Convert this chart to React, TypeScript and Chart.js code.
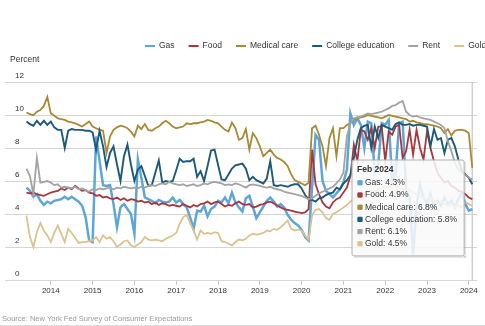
import React, { useEffect, useRef } from 'react';
import { Chart, registerables, Tooltip } from 'chart.js';

Chart.register(...registerables);

// ---------- data ----------
const startYear = 2013;
const startMonth = 6; // June 2013, monthly through Feb 2024
const monthNames = ['Jan', 'Feb', 'Mar', 'Apr', 'May', 'Jun', 'Jul', 'Aug', 'Sep', 'Oct', 'Nov', 'Dec'];
const yearTicks = [2014, 2015, 2016, 2017, 2018, 2019, 2020, 2021, 2022, 2023, 2024];
const seriesNames = ['Gas', 'Food', 'Medical care', 'College education', 'Rent', 'Gold'];
const axisTitle = 'Percent';
const sourceText = 'Source: New York Fed Survey of Consumer Expectations';

const gas = [
  5.6, 5.4, 5.05, 5.2, 4.8, 4.55, 4.75,
  4.65, 4.8, 4.85, 4.9, 5.05, 4.9, 5.05, 4.9, 4.75, 4.5, 3.8, 2.4,
  2.3, 8.7, 7.2, 5.75, 5.7, 5.75, 4.6, 3.2, 4.4, 4.6, 4.3, 4.0,
  2.8, 7.3, 6.2, 5.0, 4.9, 4.8, 4.65, 4.85, 4.75, 4.7, 4.75, 5.0,
  4.7, 4.85, 4.6, 4.4, 3.8, 3.1, 4.2, 4.15, 4.5, 3.85, 4.3, 4.45,
  4.8, 4.7, 5.0, 4.65, 5.3, 4.7, 4.4, 4.15, 4.95, 5.1, 4.45, 3.75,
  4.1, 4.45, 4.8, 5.0, 4.75, 4.45, 4.6, 4.4, 3.95, 3.65, 3.45, 3.3,
  3.05, 2.6, 2.4, 5.6, 8.8, 8.5, 6.0, 5.4, 5.2, 5.0, 5.25, 5.5,
  5.9, 6.7, 10.1, 9.4, 9.8, 9.4, 8.0, 9.6, 9.5, 6.5, 7.0, 9.5,
  9.4, 9.7, 6.0, 6.5, 9.5, 9.6, 5.5, 5.0, 1.5, 4.5, 5.8, 5.0,
  4.6, 5.2, 4.4, 4.8, 4.5, 5.0, 4.6, 4.8, 4.4, 4.9, 5.3, 4.6,
  4.2, 4.3,
];
const food = [
  5.3, 5.25, 5.3, 5.2, 5.15, 5.1, 5.2,
  5.3, 5.35, 5.4, 5.55, 5.45, 5.6, 5.5, 5.7, 5.55, 5.4, 5.45, 5.3,
  5.25, 5.1, 5.15, 5.0, 5.05, 4.95, 4.9, 5.0, 4.85, 4.95, 4.8, 4.9,
  4.85, 4.75, 4.8, 4.7, 4.75, 4.6, 4.7, 4.55, 4.65, 4.6, 4.5, 4.55,
  4.5, 4.45, 4.6, 4.5, 4.4, 4.55, 4.45, 4.6, 4.65, 4.75, 4.6, 4.7,
  4.75, 4.6, 4.45, 4.55, 4.5, 4.65, 4.75, 4.6, 4.55, 4.6, 4.4, 4.45,
  4.55, 4.6, 4.7, 4.75, 4.65, 4.5, 4.4, 4.3, 4.25, 4.2, 4.15, 4.1,
  4.05, 4.1, 4.3, 7.9, 5.8, 5.2, 4.7, 4.45, 4.35, 4.7, 4.9, 5.0,
  5.3, 5.6, 6.3, 8.2, 7.2, 9.1, 9.0, 8.5, 9.2, 8.0, 9.3, 9.3,
  7.2, 9.0, 8.8, 9.3, 9.4, 7.4, 7.8, 9.1, 7.6, 9.1, 8.0, 7.3,
  9.0, 8.0, 7.2, 6.5, 6.2, 5.9, 6.0, 5.7, 5.6, 5.4, 5.35, 5.2,
  5.0, 4.9,
];
const medicalCare = [
  10.15, 10.05, 9.98, 10.2, 10.3, 10.55, 11.1,
  10.1, 9.95, 9.8, 9.75, 9.7, 9.6, 9.55, 9.5, 9.4, 9.3, 9.45, 9.6,
  9.3, 9.2, 9.1, 9.05, 7.7, 8.7, 9.1, 9.25, 9.35, 9.3, 9.2, 9.0,
  8.7, 9.35, 9.15, 9.45, 9.1, 9.05, 9.2, 9.3, 9.5, 9.65, 9.5, 9.3,
  9.2, 9.25, 9.3, 9.5, 9.45, 9.5, 9.5, 9.55, 9.6, 9.7, 9.65, 9.55,
  9.5, 9.3, 9.1, 9.0, 9.55, 9.2, 8.5, 8.6, 9.15, 7.9, 8.9, 8.6,
  8.1, 7.5, 7.7, 7.9, 7.6, 7.4, 7.3, 7.15, 6.9, 6.4, 6.05, 5.95,
  5.85, 5.75, 5.9, 9.2, 9.35, 8.8, 8.1, 6.9, 8.6, 9.2, 7.5, 9.2,
  9.2, 9.4, 9.5, 9.7, 9.8, 9.85, 9.9, 10.0, 9.95, 9.9, 9.85, 9.8,
  9.9, 10.0, 9.95, 9.9, 9.85, 9.8, 9.75, 9.6, 9.65, 9.55, 9.5, 9.45,
  9.45, 9.4, 9.35, 9.3, 9.2, 8.9, 9.15, 8.75, 9.05, 9.1, 9.1, 9.05,
  8.9, 6.8,
];
const collegeEducation = [
  9.6, 9.45, 9.35, 9.65, 9.4, 9.65, 9.4,
  9.6, 9.25, 9.1, 9.1, 8.0, 9.05, 9.15, 9.1, 9.1, 9.1, 9.05, 9.05,
  8.95, 7.9, 9.05, 8.1, 6.85, 7.7, 8.1, 7.0, 6.0, 7.5, 8.2, 7.0,
  6.0, 6.7, 6.9, 6.3, 5.7, 5.75, 6.5, 7.25, 5.9, 6.0, 5.95, 6.0,
  6.65, 7.35, 7.15, 7.2, 7.2, 7.35, 6.25, 6.6, 6.0, 6.9, 7.85, 7.9,
  7.0, 6.1, 6.05, 6.4, 6.75, 6.95, 7.0, 7.05, 6.75, 6.05, 6.25, 6.05,
  5.95, 5.85, 6.15, 7.2, 5.75, 5.7, 5.75, 5.7, 5.65, 5.75, 5.8, 5.8,
  5.55, 5.15, 4.9, 4.85, 4.75, 4.95, 5.0, 5.15, 5.25, 5.3, 5.6, 5.5,
  5.85, 6.05, 6.35, 7.4, 8.5, 9.2, 9.35, 9.4, 8.0, 9.3, 8.6, 9.4,
  9.3, 9.2, 9.1, 9.45, 9.55, 9.4, 9.4, 9.45, 9.35, 9.4, 9.4, 9.35,
  9.3, 8.1, 9.15, 8.5, 8.6, 7.7, 8.5, 8.6, 8.1, 7.3, 6.6, 6.4,
  6.2, 5.8,
];
const rent = [
  6.75, 6.3, 5.2, 7.4, 5.9, 5.95, 6.0,
  5.9, 5.75, 5.8, 5.6, 5.65, 5.6, 5.55, 5.65, 5.5, 5.55, 5.45, 5.35,
  5.5, 5.45, 5.55, 5.5, 5.55, 5.6, 5.5, 5.6, 5.55, 5.65, 5.6, 5.55,
  5.6, 5.55, 5.65, 5.6, 5.7, 5.75, 5.7, 5.8, 5.85, 5.8, 5.95, 5.85,
  5.8, 5.75, 5.8, 5.7, 5.75, 5.8, 5.7, 5.75, 5.85, 5.8, 5.9, 5.95,
  5.9, 5.85, 5.75, 5.8, 5.75, 5.85, 5.8, 5.7, 5.6, 5.75, 5.8, 5.75,
  5.7, 5.65, 5.6, 5.65, 5.55, 5.5, 5.45, 5.35, 5.3, 5.25, 5.2, 5.15,
  5.1, 5.0, 4.9, 4.95, 5.1, 5.25, 5.35, 5.45, 5.55, 5.65, 5.85, 6.1,
  6.5, 8.7, 9.5, 9.8, 9.85, 9.9, 10.0, 10.1, 10.05, 10.1, 10.15, 10.2,
  10.3, 10.4, 10.55, 10.6, 10.75, 10.85, 10.2, 10.0, 9.9, 9.95, 9.85, 9.8,
  9.75, 9.7, 9.6, 9.5, 9.4, 9.2, 8.4, 7.8, 7.1, 6.7, 6.5, 6.4,
  6.2, 6.1,
];
const gold = [
  3.9, 2.6, 2.0, 2.9, 3.45, 3.0, 2.7,
  2.3, 2.85, 3.3, 2.8, 2.3, 3.1, 2.85, 2.55, 2.25, 2.3, 2.3, 2.35,
  2.4, 2.6, 2.3, 2.7, 2.5, 2.6, 2.35, 2.0, 2.15, 2.35, 2.4, 2.1,
  2.0, 2.15, 2.3, 2.6, 2.45, 2.4, 2.45, 2.4, 2.35, 2.5, 2.6, 2.7,
  2.85, 3.4, 3.8, 3.95, 3.45, 3.0, 2.45, 3.0, 2.8, 2.85, 2.8, 2.9,
  2.85, 2.35, 2.3, 2.2, 2.1, 2.3, 2.45, 2.4, 2.5, 2.7, 2.8, 2.75,
  2.8, 2.85, 3.0, 2.95, 3.1, 3.05, 3.2, 3.4, 3.6, 3.1, 3.0, 3.05,
  3.0, 2.7, 2.45, 3.9, 4.25, 4.3, 4.1, 3.75, 3.65, 4.0, 4.1, 4.25,
  4.4, 4.55, 4.75, 4.9, 5.0, 5.1, 5.2, 5.3, 5.4, 5.3, 5.5, 5.6,
  5.7, 5.6, 5.8, 5.7, 5.6, 5.5, 5.4, 5.5, 5.3, 5.2, 5.1, 5.0,
  4.9, 5.0, 4.8, 4.7, 4.8, 4.6, 4.5, 4.6, 4.4, 4.5, 4.4, 4.7,
  4.6, 4.5,
];
const seriesValues = [gas, food, medicalCare, collegeEducation, rent, gold];

// ---------- styles ----------
const FONT = '"Liberation Sans", Arial, Helvetica, sans-serif';
const lineColors = ['#5fa6d8', '#a8373d', '#a88a34', '#1b5a78', '#a3a3a3', '#dcc28e'];
const lineWidths = [2.5, 1.8, 1.8, 1.9, 1.8, 1.8];
const xMin = 2012.904;
const xMax = 2024.196;

const monthTime = (i: number) => startYear + (startMonth - 1 + i) / 12;
const monthLabel = (i: number) => {
  const m = startMonth - 1 + i;
  return `${monthNames[m % 12]} ${startYear + Math.floor(m / 12)}`;
};
const lastIndex = gas.length - 1;

(Tooltip as any).positioners.fixedBox = function (items: any[]) {
  if (!items.length) return false;
  const ca = this.chart.chartArea;
  return { x: ca.left + 349, y: 160, xAlign: 'left', yAlign: 'top' };
};

const decorPlugin = {
  id: 'decor',
  beforeDraw(chart: any) {
    const { ctx, width } = chart;
    ctx.save();
    // legend
    ctx.font = `8.5px ${FONT}`;
    ctx.textBaseline = 'middle';
    let x = 145;
    const y = 46;
    seriesNames.forEach((name, k) => {
      ctx.strokeStyle = lineColors[k];
      ctx.lineWidth = 2;
      ctx.beginPath();
      ctx.moveTo(x, y);
      ctx.lineTo(x + 10, y);
      ctx.stroke();
      ctx.fillStyle = '#333';
      ctx.textAlign = 'left';
      ctx.fillText(name, x + 14, y);
      x += 14 + ctx.measureText(name).width + 14;
    });
    // axis title
    ctx.font = `8.5px ${FONT}`;
    ctx.fillStyle = '#333';
    ctx.fillText(axisTitle, 10, 59.5);
    // source
    ctx.font = `7.5px ${FONT}`;
    ctx.fillStyle = '#9a9a9a';
    ctx.fillText(sourceText, 2, 319);
    // bottom rule
    ctx.strokeStyle = '#dddddd';
    ctx.lineWidth = 1;
    ctx.beginPath();
    ctx.moveTo(0, 325.5);
    ctx.lineTo(width, 325.5);
    ctx.stroke();
    ctx.restore();
  },
  beforeDatasetsDraw(chart: any) {
    const { ctx, chartArea, scales } = chart;
    const px = scales.x.getPixelForValue(monthTime(lastIndex));
    ctx.save();
    ctx.strokeStyle = '#d0d0d0';
    ctx.lineWidth = 1.5;
    ctx.beginPath();
    ctx.moveTo(px, chartArea.top);
    ctx.lineTo(px, chartArea.bottom);
    ctx.stroke();
    ctx.restore();
  },
  beforeTooltipDraw(chart: any, args: any) {
    const t = args.tooltip;
    const { ctx } = chart;
    ctx.save();
    ctx.fillStyle = 'rgba(0,0,0,0.10)';
    ctx.fillRect(t.x + t.width, t.y + 2, 2, t.height);
    ctx.fillRect(t.x + 2, t.y + t.height, t.width, 2);
    ctx.restore();
  },
};

export default function App() {
  const ref = useRef<HTMLCanvasElement>(null);

  useEffect(() => {
    const canvas = ref.current;
    if (!canvas) return;
    Chart.defaults.font.family = FONT;
    Chart.defaults.color = '#333';

    const datasets = seriesValues.map((vals, k) => ({
      label: seriesNames[k],
      data: vals.map((v, i) => ({ x: monthTime(i), y: v })),
      borderColor: lineColors[k],
      backgroundColor: lineColors[k],
      borderWidth: lineWidths[k],
      pointRadius: 0,
      pointHoverRadius: 0,
      fill: false,
      tension: 0,
      order: seriesNames.length - k,
    }));

    const chart = new Chart(canvas, {
      type: 'line',
      data: { datasets },
      plugins: [decorPlugin],
      options: {
        responsive: false,
        animation: false,
        events: [],
        layout: { padding: { left: 5, right: 8, top: 82, bottom: 0 } },
        scales: {
          x: {
            type: 'linear',
            min: xMin,
            max: xMax,
            afterBuildTicks: (s: any) => {
              s.ticks = yearTicks.map((v) => ({ value: v }));
            },
            afterFit: (s: any) => {
              s.height = 46;
            },
            border: { display: false },
            grid: { drawOnChartArea: false, drawTicks: true, tickLength: 5, color: '#c8c8c8' },
            ticks: {
              padding: 1,
              autoSkip: false,
              maxRotation: 0,
              font: { size: 8 },
              color: '#333',
              callback: (v: any) => String(v),
            },
          },
          y: {
            min: 0,
            max: 12,
            afterFit: (s: any) => {
              s.width = 0;
            },
            border: { display: false },
            grid: { color: '#d6d6d6', lineWidth: 1, drawTicks: false },
            ticks: {
              stepSize: 2,
              mirror: true,
              padding: 10,
              labelOffset: -6,
              font: { size: 8 },
              color: '#333',
            },
          },
        },
        plugins: {
          legend: { display: false },
          title: { display: false },
          tooltip: {
            enabled: true,
            position: 'fixedBox' as any,
            xAlign: 'left',
            yAlign: 'top',
            mode: 'index',
            intersect: false,
            backgroundColor: 'rgba(249,249,249,0.86)',
            borderColor: '#b0b0b0',
            borderWidth: 1,
            cornerRadius: 2,
            caretSize: 0,
            caretPadding: 0,
            padding: { top: 5, bottom: 7, left: 5, right: 7 },
            titleFont: { size: 8.5, weight: 'bold', lineHeight: 1.2 },
            titleColor: '#333',
            titleMarginBottom: 2.5,
            bodyFont: { size: 8.5, lineHeight: 1.2 },
            bodyColor: '#333',
            bodySpacing: 2,
            boxWidth: 6,
            boxHeight: 6,
            usePointStyle: true,
            multiKeyBackground: 'rgba(0,0,0,0)',
            displayColors: true,
            itemSort: (a: any, b: any) => a.datasetIndex - b.datasetIndex,
            callbacks: {
              title: (items: any[]) => (items.length ? monthLabel(items[0].dataIndex) : ''),
              label: (item: any) => `${item.dataset.label}: ${item.parsed.y.toFixed(1)}%`,
              labelColor: (item: any) => ({
                borderColor: lineColors[item.datasetIndex],
                backgroundColor: lineColors[item.datasetIndex],
              }),
              labelPointStyle: () => ({ pointStyle: 'rect', rotation: 0 }),
            },
          },
        },
      } as any,
    });

    chart.tooltip?.setActiveElements(
      seriesValues.map((_, d) => ({ datasetIndex: d, index: lastIndex })),
      { x: 0, y: 0 }
    );
    chart.update();

    return () => chart.destroy();
  }, []);

  return (
    <div style={{ position: 'fixed', left: 0, top: 0, width: 485, height: 326, background: '#fff' }}>
      <canvas ref={ref} width={485} height={326} style={{ display: 'block', width: 485, height: 326 }} />
    </div>
  );
}
